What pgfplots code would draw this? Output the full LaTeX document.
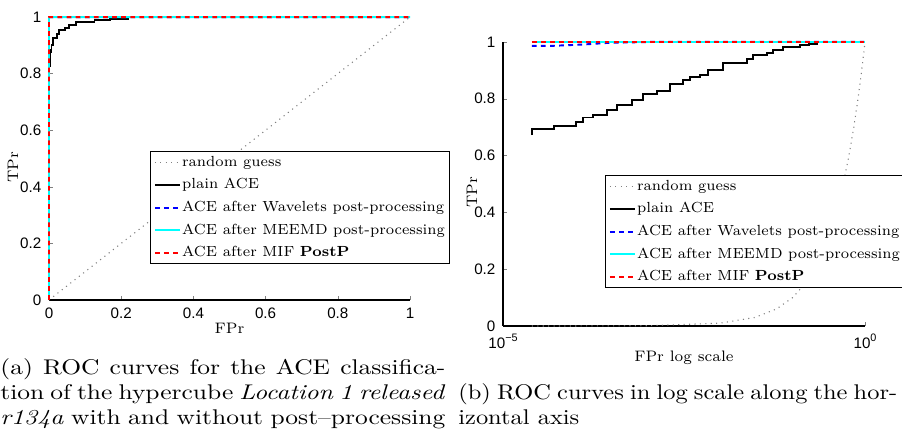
\documentclass[border=0pt]{standalone}
\usepackage{fontspec}
\usepackage{graphicx}
\usepackage{pgfplots}
\usepackage{pgfplotstable}
\pgfplotsset{compat=1.18}
\newfontfamily\arial{Liberation Sans}
\definecolor{mcyan}{rgb}{0,1,1}

% ROC data
\pgfplotstableread{
x y
0 0
2.5e-5 2.5e-5
1e-4 1e-4
1e-3 1e-3
0.01 0.01
0.03 0.03
0.06 0.06
0.1 0.1
0.15 0.15
0.2 0.2
0.3 0.3
0.4 0.4
0.5 0.5
0.6 0.6
0.7 0.7
0.8 0.8
0.9 0.9
1 1
}\randomtab

\pgfplotstableread{
x y
2.54e-5 0.672
2.54e-5 0.695
5.1e-5 0.703
1.02e-4 0.718
1.29e-4 0.734
1.77e-4 0.742
2.76e-4 0.760
3.7e-4 0.777
6.0e-4 0.795
8.7e-4 0.818
1.32e-3 0.828
2.03e-3 0.851
3.09e-3 0.865
3.83e-3 0.877
5.25e-3 0.885
6.86e-3 0.900
1.10e-2 0.926
2.32e-2 0.941
2.87e-2 0.955
4.39e-2 0.960
5.42e-2 0.973
7.45e-2 0.982
1.26e-1 0.988
1.70e-1 0.993
2.20e-1 1.0
1 1
}\acetab

\pgfplotstableread{
x y
0 0
2.5e-5 0.986
4.5e-5 0.986
1.29e-4 0.991
2.7e-4 0.9965
4.6e-4 0.998
1.07e-3 1
1 1
}\wavtab

\pgfplotstableread{
x y
0 0
2.5e-5 1
1 1
}\perfecttab

\def\sup#1{\raisebox{3.2pt}{\fontsize{5}{5}\selectfont #1}}
% captions are stretched sideways in the reference
\def\capline#1#2#3{\scalebox{#1}[1]{\hbox to #2{#3}}}

\tikzset{mdash/.style={dash pattern=on 2.2pt off 2pt}}

\pgfplotsset{rocax/.style={
  scale only axis,
  axis x line*=bottom, axis y line*=left,
  tick align=inside, major tick length=2pt,
  ymin=0, ymax=1, ytick={0,0.2,0.4,0.6,0.8,1},
  clip=false,
  tick label style={font=\arial\fontsize{7}{8}\selectfont},
  /pgf/number format/assume math mode=true,
  label style={font=\fontsize{7}{8}\selectfont},
  axis line style={line width=0.5pt},
  legend cell align=left,
  legend image code/.code={\draw[##1] (0pt,0pt) -- (11.5pt,0pt);},
  legend style={draw=black, line width=0.6pt, fill=white,
    font=\fontsize{6.75}{8}\selectfont,
    inner xsep=1.5pt, inner ysep=1pt, row sep=2.4pt,
    nodes={inner sep=0.6pt, text height=5.2pt, text depth=1.6pt},
    anchor=north west},
}}

\begin{document}
\begin{tikzpicture}
\useasboundingbox (0,0) rectangle (416pt,200.62pt);

% (a) linear FPr
\begin{axis}[rocax,
  at={(22.6pt,62.26pt)}, anchor=south west,
  width=166.5pt, height=130.5pt,
  xmin=0, xmax=1, xtick={0,0.2,0.4,0.6,0.8,1},
  xlabel={FPr}, ylabel={TPr},
  xlabel style={at={(axis description cs:0.5,-0.099)}, anchor=center},
  ylabel style={at={(axis description cs:-0.0997,0.47)}, anchor=center},
  legend style={at={(axis description cs:0.2798,0.5265)}},
]
\addplot[gray, dotted, line width=0.5pt] table {\randomtab};
\addlegendentry{random guess}
\addplot[black, line width=0.9pt, const plot] table {\acetab};
\addlegendentry{plain ACE}
\addplot[blue, mdash, line width=0.9pt] table {\wavtab};
\addlegendentry{ACE after Wavelets post-processing}
\addplot[mcyan, line width=0.9pt] table {\perfecttab};
\addlegendentry{ACE after MEEMD post-processing}
\addplot[red, mdash, line width=0.9pt] table {\perfecttab};
\addlegendentry{ACE after MIF \textbf{PostP}}
\end{axis}

% (b) log FPr
\begin{axis}[rocax,
  at={(232.0pt,50.27pt)}, anchor=south west,
  width=166.95pt, height=131pt,
  xmode=log, xmin=1e-5, xmax=1, xtick={1e-5,1},
  xticklabels={10\sup{−5},10\sup{0}}, xminorticks=false,
  xlabel={FPr log scale}, ylabel={TPr},
  xlabel style={at={(axis description cs:0.5,-0.1127)}, anchor=center},
  ylabel style={at={(axis description cs:-0.0857,0.47)}, anchor=center},
  legend style={at={(axis description cs:0.2818,0.5317)}},
]
\addplot[gray, dotted, line width=0.5pt] table {\randomtab};
\addlegendentry{random guess}
\addplot[black, line width=0.9pt, const plot] table {\acetab};
\addlegendentry{plain ACE}
\addplot[blue, mdash, line width=0.9pt] table {\wavtab};
\addlegendentry{ACE after Wavelets post-processing}
\addplot[mcyan, line width=0.9pt] table {\perfecttab};
\addlegendentry{ACE after MEEMD post-processing}
\addplot[red, mdash, line width=0.9pt] table {\perfecttab};
\addlegendentry{ACE after MIF \textbf{PostP}}
\end{axis}

% sub-captions
\begin{scope}[every node/.style={inner sep=0pt, anchor=base west, font=\fontsize{9.8}{11.67}\selectfont}]
\node at (0pt,28.0pt) {\capline{1.2}{171pt}{(a) ROC curves for the ACE classifica-}};
\node at (0pt,16.47pt) {\capline{1.2}{171pt}{tion of the hypercube \textit{Location 1 released}}};
\node at (0pt,4.61pt) {\capline{1.2}{171pt}{\textit{r134a} with and without post--processing}};
\node at (211.2pt,16.47pt) {\capline{1.15}{176pt}{(b) ROC curves in log scale along the hor-}};
\node at (211.2pt,4.61pt) {\scalebox{1.15}[1]{izontal axis}};
\end{scope}
\end{tikzpicture}
\end{document}
